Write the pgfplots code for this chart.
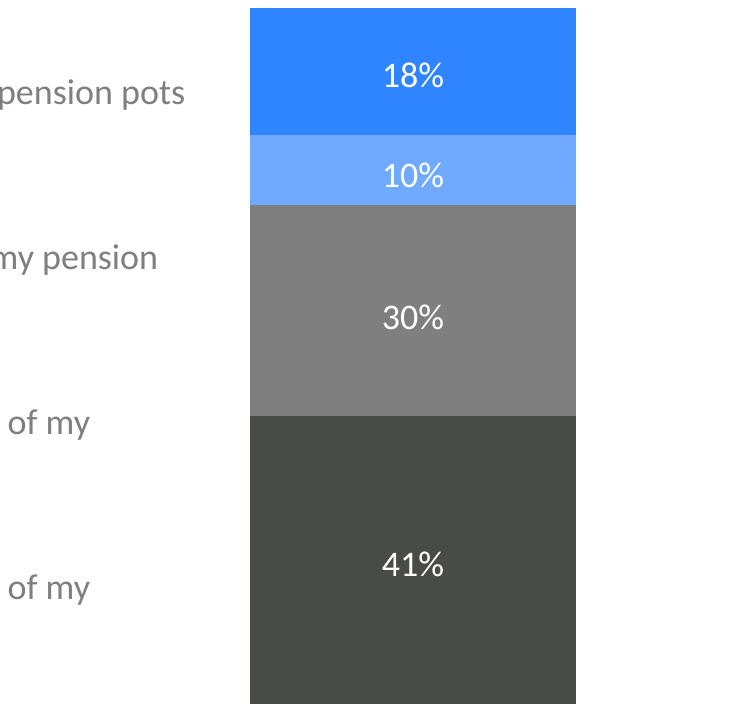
\documentclass[border=0pt]{standalone}
\usepackage{fontspec}
\setmainfont{Carlito}
\usepackage{pgfplots}
\pgfplotsset{compat=1.18}
\definecolor{cblue}{HTML}{2F85FF}
\definecolor{clight}{HTML}{6FAAFF}
\definecolor{cgray}{HTML}{7F7F7F}
\definecolor{cdark}{HTML}{494C46}
\definecolor{ctext}{HTML}{7F7F7F}
\begin{document}
\begin{tikzpicture}
\path[use as bounding box] (0pt,0pt) rectangle (367.5pt,352pt);
\pgfplotsset{base/.style={
  at={(125pt,0pt)}, anchor=south west,
  scale only axis, width=163pt, height=348pt,
  xmin=-0.5, xmax=0.5, ymin=0, ymax=99,
  enlargelimits=false, hide axis, clip=false}}
\begin{axis}[base, ybar stacked, bar width=163pt]
\addplot[fill=cdark, draw=none] coordinates {(0,41)};
\addplot[fill=cgray, draw=none] coordinates {(0,30)};
\addplot[fill=clight, draw=none] coordinates {(0,10)};
\addplot[fill=cblue, draw=none] coordinates {(0,18)};
\end{axis}
\begin{axis}[base, every node/.append style={inner sep=0pt}]
\addplot[only marks, mark=none, point meta=explicit symbolic,
  nodes near coords, nodes near coords align=center,
  every node near coord/.append style={text=white, font=\fontsize{18}{21}\selectfont, anchor=center}]
  table[meta=label] {
x y label
0 19.8 41\%
0 55.0 30\%
0 75.2 10\%
0 89.4 18\%
};
\node[anchor=base east, text=ctext, font=\fontsize{18}{21}\selectfont] at (axis cs:-0.677,85.3) {pension pots};
\node[anchor=base east, text=ctext, font=\fontsize{18}{21}\selectfont] at (axis cs:-0.760,61.8) {my pension};
\node[anchor=base east, text=ctext, font=\fontsize{18}{21}\selectfont] at (axis cs:-0.969,38.3) {of my};
\node[anchor=base east, text=ctext, font=\fontsize{18}{21}\selectfont] at (axis cs:-0.969,14.8) {of my};
\end{axis}
\end{tikzpicture}
\end{document}
